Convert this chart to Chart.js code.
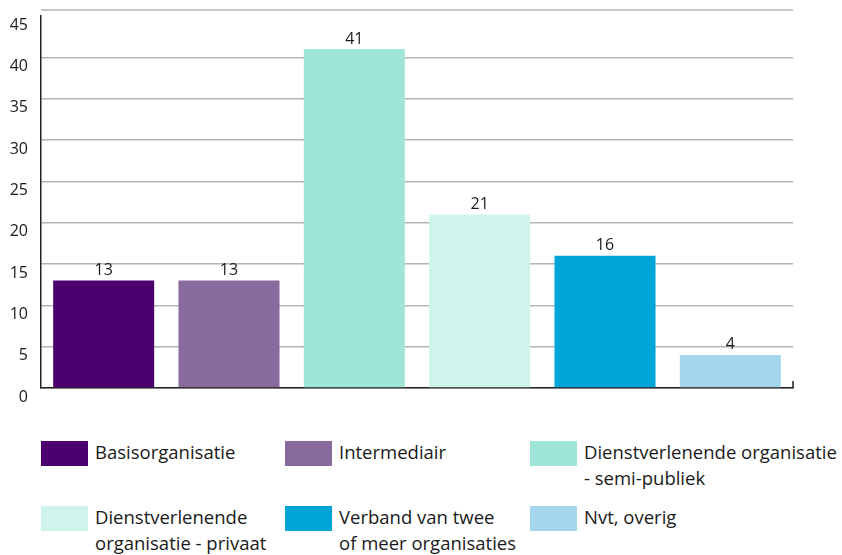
<!DOCTYPE html>
<html>
<head>
<meta charset="utf-8">
<script src="https://cdn.jsdelivr.net/npm/chart.js@4"></script>
<style>
  body { margin: 0; background: #fff; font-family: "Open Sans", sans-serif; }
  #wrap { position: relative; width: 842px; height: 555px; }
  #c { position: absolute; left: 0; top: 0; }
  .leg { position: absolute; font-size: 18.5px; color: #1a1a1a; line-height: 26px; }
  .leg .box { position: absolute; left: 0; top: 2px; width: 47px; height: 25px; }
  .leg .txt { position: absolute; left: 54px; top: 0; white-space: nowrap; }
</style>
</head>
<body>
<div id="wrap">
  <canvas id="c" width="842" height="410"></canvas>
  <div id="legend"></div>
</div>
<script>
// data
const categories = ['Basisorganisatie', 'Intermediair', 'Dienstverlenende organisatie - semi-publiek',
  'Dienstverlenende organisatie - privaat', 'Verband van twee of meer organisaties', 'Nvt, overig'];
const legendLines = [['Basisorganisatie'], ['Intermediair'], ['Dienstverlenende organisatie', '- semi-publiek'],
  ['Dienstverlenende', 'organisatie - privaat'], ['Verband van twee', 'of meer organisaties'], ['Nvt, overig']];
const values = [13, 13, 41, 21, 16, 4];
const colors = ['#4b026e', '#886a9e', '#a0e6d8', '#cef4ec', '#00a5d8', '#a4d6ee'];
const yTicks = [0, 5, 10, 15, 20, 25, 30, 35, 40, 45];

// value labels above bars
const barLabels = {
    id: 'barLabels',
    afterDatasetsDraw(chart) {
        const ctx = chart.ctx;
        const a = chart.chartArea;
        ctx.save();
        ctx.font = '16px "Open Sans"';
        ctx.fillStyle = '#1a1a1a';
        ctx.textAlign = 'center';
        ctx.textBaseline = 'bottom';
        chart.getDatasetMeta(0).data.forEach((bar, i) => {
            ctx.fillText(values[i], bar.x, bar.y - 2);
        });
        // top rule just above the plot
        ctx.strokeStyle = '#b4b4b4';
        ctx.lineWidth = 1.5;
        ctx.beginPath();
        ctx.moveTo(a.left, a.top - 6);
        ctx.lineTo(a.right, a.top - 6);
        ctx.stroke();
        // little tick at the end of the x axis
        ctx.strokeStyle = '#222';
        ctx.beginPath();
        ctx.moveTo(a.right, a.bottom - 7);
        ctx.lineTo(a.right, a.bottom);
        ctx.stroke();
        ctx.restore();
    }
};

new Chart(document.getElementById('c'), {
    type: 'bar',
    data: {
        labels: categories,
        datasets: [{
            data: values,
            backgroundColor: colors,
            barPercentage: 0.806,
            categoryPercentage: 1
        }]
    },
    options: {
        responsive: false,
        animation: false,
        layout: { padding: { top: 16, right: 49, left: 0, bottom: 22 } },
        plugins: { legend: { display: false }, tooltip: { enabled: false } },
        scales: {
            x: {
                grid: { display: false },
                border: { color: '#222', width: 1.5 },
                ticks: { display: false },
                afterFit: s => { s.height = 0; s.paddingLeft = 0; s.paddingRight = 0; }
            },
            y: {
                min: 0,
                max: 45,
                afterBuildTicks: s => { s.ticks = yTicks.map(v => ({ value: v })); },
                afterFit: s => { s.width = 41; s.paddingTop = 0; s.paddingBottom = 0; },
                grid: {
                    color: ctx => ctx.tick && ctx.tick.value === 45 ? 'rgba(0,0,0,0)' : '#b4b4b4',
                    lineWidth: 1.5,
                    drawTicks: false
                },
                border: { color: '#222', width: 1.5 },
                ticks: {
                    font: { family: 'Open Sans', size: 16 },
                    color: '#1a1a1a',
                    padding: 13,
                    labelOffset: 9
                }
            }
        }
    },
    plugins: [barLabels]
});

// legend in 3 columns, 2 rows
const legendX = [41, 285, 530];
const legendY = [439, 504];
let html = '';
legendLines.forEach((lines, i) => {
    const x = legendX[i % 3], y = legendY[Math.floor(i / 3)];
    html += '<div class="leg" style="left:' + x + 'px;top:' + y + 'px">' +
        '<div class="box" style="background:' + colors[i] + '"></div>' +
        '<div class="txt">' + lines.join('<br>') + '</div></div>';
});
document.getElementById('legend').innerHTML = html;
</script>
</body>
</html>
